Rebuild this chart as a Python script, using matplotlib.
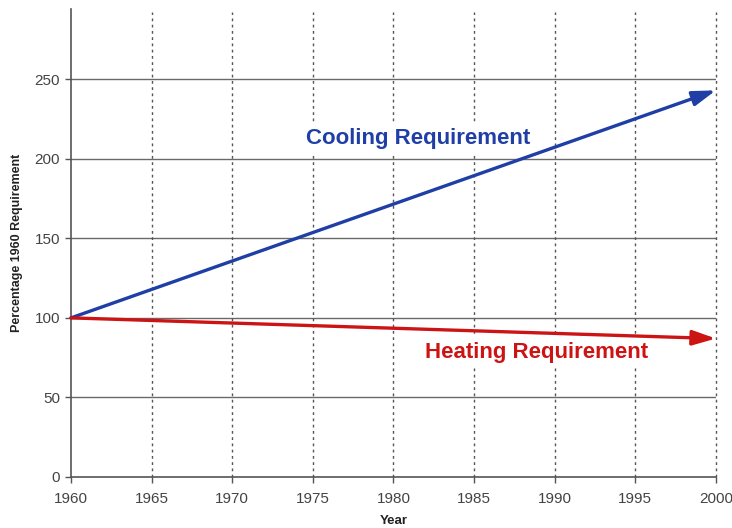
import matplotlib
matplotlib.use('Agg')
import matplotlib.pyplot as plt

# data
years = [1960, 2000]
cooling = [100, 243]
heating = [100, 87]
x_ticks = list(range(1960, 2001, 5))
y_ticks = [0, 50, 100, 150, 200, 250]

plt.rcParams['font.family'] = ['Liberation Sans', 'DejaVu Sans']

fig = plt.figure(figsize=(7.32, 5.28), dpi=100)
ax = fig.add_axes([0.097, 0.0966, 0.881, 0.886])

ax.set_xlim(1960, 2000)
ax.set_ylim(0, 294)
ax.set_xticks(x_ticks)
ax.set_yticks(y_ticks)

# grid: solid horizontal, dotted vertical
for v in y_ticks[1:]:
    ax.axhline(v, color='#6a6a6a', lw=1.0, zorder=1)
for yr in x_ticks[1:]:
    ax.axvline(yr, ymax=0.994, color='#555555', lw=1.0, ls=(0, (2, 2.5)), zorder=1, clip_on=False)

for s in ['top', 'right']:
    ax.spines[s].set_visible(False)
for s in ['left', 'bottom']:
    ax.spines[s].set_color('#555555')
    ax.spines[s].set_linewidth(1.2)

ax.tick_params(colors='#555555', labelcolor='#444444', labelsize=11, length=4, width=1)
ax.tick_params(axis='x', pad=7)
ax.tick_params(axis='y', pad=4)

# arrows
head = '-|>,head_length=1.0,head_width=0.32'
ax.annotate('', xy=(years[1], cooling[1]), xytext=(years[0], cooling[0]),
            arrowprops=dict(arrowstyle=head, color='#1f3fa6', lw=2.4, mutation_scale=14,
                            shrinkA=0, shrinkB=0), zorder=3, annotation_clip=False)
ax.annotate('', xy=(years[1], heating[1]), xytext=(years[0], heating[0]),
            arrowprops=dict(arrowstyle=head, color='#cc1414', lw=2.4, mutation_scale=14,
                            shrinkA=0, shrinkB=0), zorder=3, annotation_clip=False)

box = dict(facecolor='white', edgecolor='none', pad=4)
ax.text(1981.5, 213, 'Cooling Requirement', color='#1f3fa6', fontsize=16, fontweight='bold',
        ha='center', va='center', bbox=box, zorder=2)
ax.text(1988.9, 78.5, 'Heating Requirement', color='#cc1414', fontsize=16, fontweight='bold',
        ha='center', va='center', bbox=box, zorder=2)

ax.set_xlabel('Year', fontsize=9.5, fontweight='bold', color='#222222', labelpad=6)
ax.set_ylabel('Percentage 1960 Requirement', fontsize=9, fontweight='bold', color='#222222', labelpad=8)

fig.savefig('out.png', dpi=100)
